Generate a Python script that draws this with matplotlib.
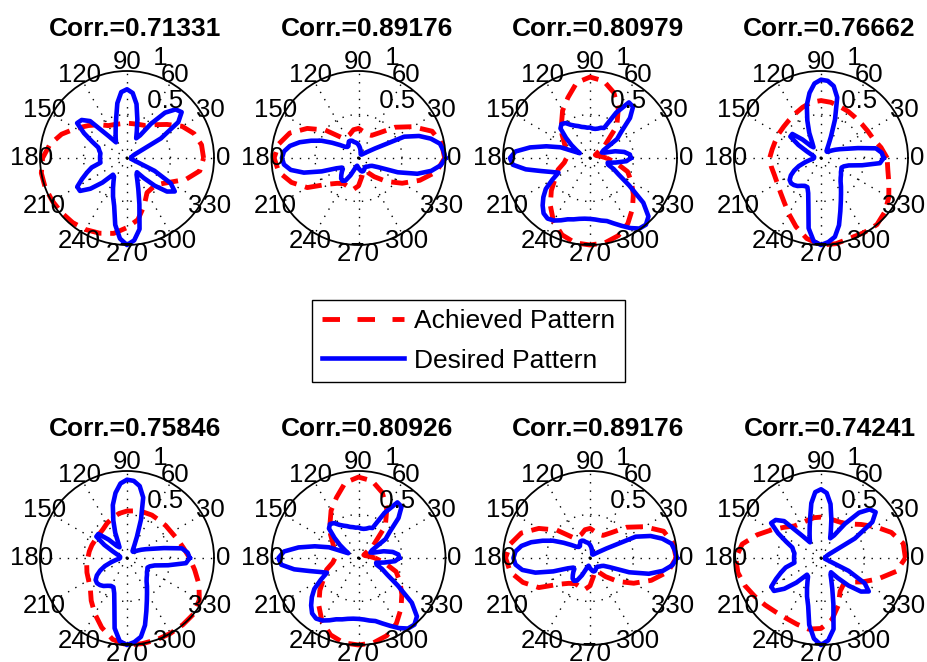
import numpy as np
import matplotlib.pyplot as plt
from matplotlib.lines import Line2D

plt.rcParams['font.family'] = ['Liberation Sans', 'DejaVu Sans']

# angles of the sampled radii (degrees)
ang_des = np.arange(0, 360, 5)
ang_ach = np.arange(0, 360, 10)

# desired patterns, radius every 5 deg
desired_star = [0.05, 0.05, 0.05, 0.06, 0.07, 0.10, 0.45, 0.72, 0.82, 0.79, 0.68, 0.48,
                0.30, 0.25, 0.33, 0.46, 0.63, 0.75, 0.79, 0.76, 0.64, 0.48, 0.38, 0.31,
                0.26, 0.22, 0.33, 0.60, 0.68, 0.70, 0.57, 0.44, 0.35, 0.33, 0.31, 0.31,
                0.31, 0.31, 0.31, 0.42, 0.49, 0.57, 0.66, 0.66, 0.55, 0.40, 0.25, 0.26,
                0.31, 0.38, 0.47, 0.57, 0.78, 0.93, 1.00, 0.95, 0.83, 0.55, 0.38, 0.28,
                0.22, 0.20, 0.30, 0.45, 0.60, 0.67, 0.58, 0.35, 0.10, 0.06, 0.05, 0.05]
desired_eight = [1.00, 0.98, 0.95, 0.86, 0.74, 0.58, 0.22, 0.12, 0.08, 0.06, 0.05, 0.05,
                 0.05, 0.06, 0.07, 0.09, 0.11, 0.13, 0.15, 0.17, 0.18, 0.19, 0.21, 0.22,
                 0.22, 0.20, 0.18, 0.18, 0.20, 0.26, 0.35, 0.47, 0.58, 0.70, 0.80, 0.86,
                 0.88, 0.86, 0.79, 0.65, 0.45, 0.28, 0.22, 0.22, 0.25, 0.28, 0.31, 0.32,
                 0.30, 0.22, 0.14, 0.10, 0.09, 0.10, 0.12, 0.13, 0.15, 0.16, 0.16, 0.15,
                 0.14, 0.13, 0.13, 0.14, 0.15, 0.16, 0.18, 0.25, 0.48, 0.70, 0.85, 0.95]
desired_cross = [0.47, 0.46, 0.40, 0.30, 0.18, 0.15, 0.18, 0.38, 0.47, 0.65, 0.77, 0.78,
                 0.60, 0.38, 0.37, 0.35, 0.34, 0.34, 0.35, 0.35, 0.36, 0.37, 0.39, 0.41,
                 0.44, 0.49, 0.51, 0.48, 0.36, 0.26, 0.18, 0.13, 0.36, 0.52, 0.70, 0.86,
                 0.92, 0.89, 0.75, 0.58, 0.47, 0.40, 0.50, 0.62, 0.70, 0.77, 0.83, 0.85,
                 0.83, 0.79, 0.75, 0.73, 0.71, 0.70, 0.70, 0.71, 0.73, 0.75, 0.80, 0.86,
                 0.93, 0.99, 1.00, 0.95, 0.80, 0.55, 0.38, 0.30, 0.22, 0.21, 0.30, 0.42]
desired_tee = [0.72, 0.70, 0.64, 0.44, 0.31, 0.24, 0.19, 0.15, 0.12, 0.10, 0.10, 0.12,
               0.17, 0.27, 0.47, 0.72, 0.84, 0.89, 0.90, 0.86, 0.76, 0.63, 0.46, 0.32,
               0.20, 0.15, 0.18, 0.30, 0.43, 0.43, 0.30, 0.18, 0.12, 0.09, 0.08, 0.08,
               0.08, 0.09, 0.13, 0.19, 0.27, 0.34, 0.40, 0.44, 0.45, 0.44, 0.42, 0.39,
               0.37, 0.37, 0.43, 0.56, 0.82, 0.96, 1.00, 0.97, 0.92, 0.80, 0.65, 0.54,
               0.46, 0.40, 0.35, 0.32, 0.30, 0.28, 0.27, 0.26, 0.28, 0.33, 0.48, 0.68]

# achieved patterns, radius every 10 deg
achieved_1 = [0.88, 0.87, 0.82, 0.73, 0.60, 0.50, 0.43, 0.41, 0.40, 0.40, 0.40, 0.41,
              0.43, 0.50, 0.58, 0.68, 0.80, 0.90, 0.97, 1.00, 1.00, 0.99, 0.98, 0.97,
              0.95, 0.92, 0.88, 0.80, 0.72, 0.58, 0.46, 0.45, 0.47, 0.56, 0.72, 0.85]
achieved_2 = [0.99, 0.97, 0.90, 0.72, 0.55, 0.38, 0.30, 0.29, 0.31, 0.34, 0.33, 0.29,
              0.28, 0.31, 0.50, 0.68, 0.84, 0.93, 0.97, 0.93, 0.82, 0.68, 0.47, 0.38,
              0.34, 0.35, 0.37, 0.32, 0.22, 0.16, 0.18, 0.28, 0.42, 0.58, 0.75, 0.91]
achieved_3 = [0.19, 0.12, 0.08, 0.07, 0.22, 0.48, 0.65, 0.80, 0.90, 0.93, 0.88, 0.74,
              0.63, 0.51, 0.42, 0.34, 0.30, 0.28, 0.27, 0.30, 0.39, 0.46, 0.58, 0.71,
              0.84, 0.94, 0.99, 1.00, 0.99, 0.95, 0.87, 0.76, 0.65, 0.55, 0.46, 0.30]
achieved_4 = [0.76, 0.70, 0.64, 0.62, 0.61, 0.61, 0.62, 0.63, 0.65, 0.66, 0.65, 0.62,
              0.59, 0.57, 0.56, 0.56, 0.56, 0.57, 0.59, 0.58, 0.57, 0.58, 0.61, 0.66,
              0.74, 0.84, 0.94, 1.00, 1.00, 0.98, 0.99, 1.00, 0.96, 0.90, 0.83, 0.78]
achieved_5 = [0.72, 0.66, 0.62, 0.59, 0.58, 0.57, 0.57, 0.56, 0.55, 0.54, 0.52, 0.49,
              0.46, 0.43, 0.42, 0.42, 0.43, 0.44, 0.45, 0.47, 0.49, 0.51, 0.55, 0.64,
              0.74, 0.85, 0.95, 1.00, 1.00, 1.00, 1.00, 1.00, 1.00, 0.96, 0.88, 0.79]
achieved_8 = [0.97, 0.96, 0.86, 0.72, 0.60, 0.51, 0.47, 0.46, 0.46, 0.47, 0.47, 0.46,
              0.46, 0.48, 0.55, 0.65, 0.78, 0.92, 0.98, 0.97, 0.93, 0.88, 0.84, 0.81,
              0.80, 0.81, 0.83, 0.81, 0.72, 0.58, 0.44, 0.40, 0.43, 0.55, 0.70, 0.88]

corr = ['0.71331', '0.89176', '0.80979', '0.76662',
        '0.75846', '0.80926', '0.89176', '0.74241']
desired = [desired_star, desired_eight, desired_cross, desired_tee,
           desired_tee, desired_cross, desired_eight, desired_star]
achieved = [achieved_1, achieved_2, achieved_3, achieved_4,
            achieved_5, achieved_3, achieved_2, achieved_8]

W, H = 928, 662
fig = plt.figure(figsize=(W / 100, H / 100), dpi=100)
R = 87
col_x = [127, 358.5, 590, 821]
row_y = [158, 558]

red_dash = (0, (3.5, 1.8))


def closed(ang, r):
    return np.deg2rad(np.append(ang, 360)), np.append(r, r[0])


for k in range(8):
    cx = col_x[k % 4]
    cy = row_y[k // 4]
    ax = fig.add_axes([(cx - R) / W, (H - cy - R) / H, 2 * R / W, 2 * R / H],
                      projection='polar')
    ax.set_ylim(0, 1)
    ax.set_xticks(np.deg2rad(np.arange(0, 360, 30)))
    ax.set_xticklabels([])
    ax.set_yticks([0.5])
    ax.set_yticklabels([])
    ax.tick_params(length=0)
    ax.grid(True, color='k', linestyle=(0, (1, 5)), linewidth=1)
    ax.spines['polar'].set_linewidth(1.3)

    for a in range(0, 360, 30):
        ax.text(np.deg2rad(a), 1.1, str(a), ha='center', va='center',
                fontsize=18.5, clip_on=False)
    ax.text(np.deg2rad(82), 0.525, '  0.5', ha='left', va='bottom',
            fontsize=18.5, clip_on=False)
    ax.text(np.deg2rad(82), 1.025, '  1', ha='left', va='bottom',
            fontsize=18.5, clip_on=False)

    t, r = closed(ang_ach, achieved[k])
    ax.plot(t, r, color='r', lw=3.5, linestyle=red_dash, clip_on=False)
    t, r = closed(ang_des, desired[k])
    ax.plot(t, r, color='b', lw=3.3, clip_on=False)

    fig.text((cx + 8.5) / W, 1 - (cy - 122) / H, 'Corr.=' + corr[k],
             ha='center', va='baseline', fontsize=19, fontweight='bold')

handles = [Line2D([], [], color='r', lw=3.5, linestyle=(0, (3.6, 3.6))),
           Line2D([], [], color='b', lw=3.3)]
leg = fig.legend(handles, ['Achieved Pattern', 'Desired Pattern'],
                 loc='center', bbox_to_anchor=(468.5 / W, 1 - 341 / H),
                 fontsize=19, frameon=True, fancybox=False, edgecolor='k',
                 framealpha=1, handlelength=3.1, handletextpad=0.38,
                 borderpad=0.37, labelspacing=0.57, borderaxespad=0)
leg.get_frame().set_linewidth(1.0)

fig.savefig('out.png', dpi=100)
